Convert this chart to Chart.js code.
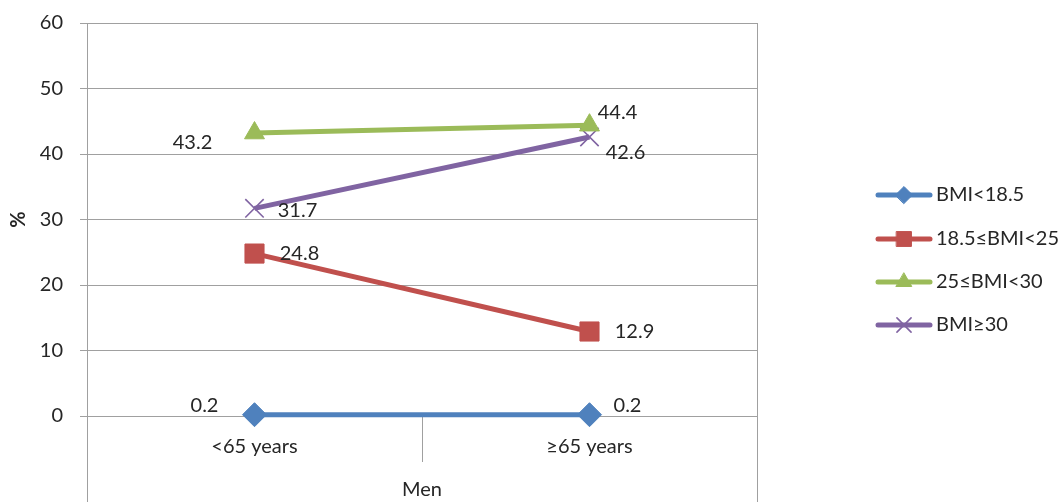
<!DOCTYPE html>
<html>
<head>
<meta charset="utf-8">
<script src="https://cdn.jsdelivr.net/npm/chart.js@4/dist/chart.umd.min.js"></script>
<style>
  html, body { margin: 0; padding: 0; background: #fff; }
  #wrap { width: 1062px; height: 502px; position: relative; }
</style>
</head>
<body>
<div id="wrap"><canvas id="c" width="1062" height="502"></canvas></div>
<script>
// Age groups (men)
const categories = ['<65 years', '≥65 years'];
const groupLabel = 'Men';

// Share of men in each BMI class, %
const bmiUnder185 = [0.2, 0.2];
const bmi185to25 = [24.8, 12.9];
const bmi25to30 = [43.2, 44.4];
const bmiOver30 = [31.7, 42.6];

const seriesNames = ['BMI<18.5', '18.5≤BMI<25', '25≤BMI<30', 'BMI≥30'];
const yTicks = [0, 10, 20, 30, 40, 50, 60];

const FONT = 'Lato, "Open Sans", sans-serif';
const FS = 20;
const TEXT = '#262626';
const GRID = '#A0A0A0';

// Marker and label placement per series
const styles = [
  { color: '#4F81BD', point: 'rectRot', radius: 12, legendRadius: 8.5, border: 1, labelOffsets: [[-50, -9], [38, -9]] },
  { color: '#C0504D', point: 'rect', radius: 13.5, legendRadius: 10.5, border: 1, labelOffsets: [[45, 0], [45, 0]] },
  { color: '#9BBB59', point: 'triangle', radius: 11.5, legendRadius: 9, border: 1, labelOffsets: [[-62, 10], [28, -13]] },
  { color: '#8064A2', point: 'crossRot', radius: 13, legendRadius: 10, border: 1.6, labelOffsets: [[43, 2], [36, 16]] }
];
const seriesData = [bmiUnder185, bmi185to25, bmi25to30, bmiOver30];

const datasets = seriesData.map((d, i) => ({
  label: seriesNames[i],
  data: d,
  clip: false,
  borderColor: styles[i].color,
  backgroundColor: styles[i].color,
  pointBackgroundColor: styles[i].color,
  pointBorderColor: styles[i].color,
  borderWidth: 5,
  pointStyle: styles[i].point,
  pointRadius: styles[i].radius,
  pointHoverRadius: styles[i].radius,
  pointBorderWidth: styles[i].border,
  tension: 0,
  fill: false
}));

// Axis frame: y axis line, right border, category separators
const framePlugin = {
  id: 'frame',
  beforeDatasetsDraw(chart) {
    const { ctx, chartArea } = chart;
    const x = chart.scales.x;
    const H = chart.height;
    const mid = (x.getPixelForTick(0) + x.getPixelForTick(1)) / 2;
    ctx.save();
    ctx.strokeStyle = GRID;
    ctx.lineWidth = 1;
    ctx.beginPath();
    ctx.moveTo(Math.round(chartArea.left) + 0.5, chartArea.top);
    ctx.lineTo(Math.round(chartArea.left) + 0.5, H);
    ctx.moveTo(Math.round(chartArea.right) + 0.5, chartArea.top);
    ctx.lineTo(Math.round(chartArea.right) + 0.5, H);
    ctx.moveTo(Math.round(mid) + 0.5, chartArea.bottom);
    ctx.lineTo(Math.round(mid) + 0.5, chartArea.bottom + 46);
    ctx.stroke();
    ctx.restore();
  }
};

// Value labels beside each point
const valueLabels = {
  id: 'valueLabels',
  afterDatasetsDraw(chart) {
    const { ctx } = chart;
    ctx.save();
    ctx.font = FS + 'px ' + FONT;
    ctx.fillStyle = TEXT;
    ctx.textAlign = 'center';
    ctx.textBaseline = 'middle';
    chart.data.datasets.forEach((ds, i) => {
      const meta = chart.getDatasetMeta(i);
      meta.data.forEach((pt, j) => {
        const [dx, dy] = styles[i].labelOffsets[j];
        ctx.fillText(ds.data[j].toFixed(1), pt.x + dx, pt.y + dy);
      });
    });
    ctx.restore();
  }
};

// Legend with line-and-marker swatches
const sideLegend = {
  id: 'sideLegend',
  afterDraw(chart) {
    const { ctx } = chart;
    const x0 = 878, x1 = 930, tx = 936;
    const ys = [195, 239, 282, 325];
    ctx.save();
    chart.data.datasets.forEach((ds, i) => {
      const y = ys[i];
      ctx.strokeStyle = ds.borderColor;
      ctx.lineWidth = 5;
      ctx.lineCap = 'round';
      ctx.beginPath();
      ctx.moveTo(x0, y);
      ctx.lineTo(x1, y);
      ctx.stroke();
      ctx.fillStyle = ds.backgroundColor;
      ctx.strokeStyle = ds.borderColor;
      ctx.lineWidth = styles[i].border;
      Chart.helpers.drawPoint(ctx, { pointStyle: styles[i].point, radius: styles[i].legendRadius, borderWidth: styles[i].border }, (x0 + x1) / 2, y);
      ctx.fillStyle = TEXT;
      ctx.font = FS + 'px ' + FONT;
      ctx.textAlign = 'left';
      ctx.textBaseline = 'middle';
      ctx.fillText(ds.label, tx, y);
    });
    ctx.restore();
  }
};

new Chart(document.getElementById('c'), {
  type: 'line',
  data: { labels: categories, datasets },
  options: {
    responsive: false,
    animation: false,
    layout: { padding: { top: 23, right: 305, left: 0, bottom: 0 } },
    plugins: {
      legend: { display: false },
      tooltip: { enabled: false }
    },
    scales: {
      x: {
        type: 'category',
        offset: true,
        grid: { display: false, drawTicks: false },
        border: { display: false },
        ticks: { color: TEXT, font: { family: FONT, size: FS }, padding: 19 },
        title: { display: true, text: groupLabel, color: TEXT, font: { family: FONT, size: FS }, padding: { top: 0, bottom: 0 } },
        afterFit(scale) { scale.height = 86; }
      },
      y: {
        min: 0,
        max: 60,
        afterBuildTicks(scale) { scale.ticks = yTicks.map(v => ({ value: v })); },
        grid: { color: GRID, lineWidth: 1, tickLength: 7, drawTicks: true },
        border: { display: false },
        ticks: { color: TEXT, font: { family: FONT, size: FS }, padding: 17 },
        title: { display: true, text: '%', color: TEXT, font: { family: FONT, size: FS, weight: 'bold' }, padding: { top: 7, bottom: 0 } },
        afterFit(scale) {
          scale.width = 87;
          scale.paddingTop = 0;
          scale.paddingBottom = 0;
        }
      }
    }
  },
  plugins: [framePlugin, valueLabels, sideLegend]
});
</script>
</body>
</html>
